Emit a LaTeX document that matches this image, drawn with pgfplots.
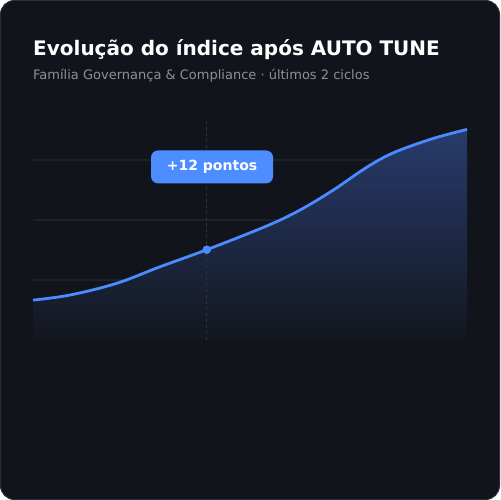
\documentclass[border=0pt]{standalone}
\usepackage{pgfplots}
\pgfplotsset{compat=1.18}
\usepackage{fontspec}
\setmainfont{DejaVu Sans}
\definecolor{bg}{HTML}{11141B}
\definecolor{cardborder}{HTML}{2A2E36}
\definecolor{gridc}{HTML}{1D2129}
\definecolor{dashc}{HTML}{2E333D}
\definecolor{linec}{HTML}{4A8BFF}
\definecolor{boxc}{HTML}{4D8DFF}
\definecolor{subc}{HTML}{8B909A}
\definecolor{filltop}{HTML}{273C6C}
\definecolor{fillbot}{HTML}{13161F}

\pgfplotstableread{
x y
0 13.3
2.05 15
4.63 18.9
7.02 24.4
9.61 30.1
12.92 38
14.76 43.3
16.61 50
18.08 56.1
19.19 60.2
20.29 63.3
22.14 67.2
24 70.2
}\indice

\begin{document}
\begin{tikzpicture}[x=1bp,y=1bp]
% card (y = 500 - pixel row)
\fill[white] (0,0) rectangle (500,500);
\fill[bg, draw=cardborder, line width=1bp, rounded corners=14bp] (0.5,0.5) rectangle (499.5,499.5);
\node[anchor=base west, inner sep=0, text=white, font=\bfseries\fontsize{20bp}{24bp}\selectfont] at (33,444) {Evolução do índice após AUTO TUNE};
\node[anchor=base west, inner sep=0, text=subc, font=\fontsize{13bp}{16bp}\selectfont] at (33,420) {Família Governança \& Compliance · últimos 2 ciclos};

\begin{axis}[
  at={(33bp,160bp)}, anchor=south west,
  scale only axis, width=434bp, height=240bp,
  xmin=0, xmax=24, ymin=0, ymax=80,
  axis line style={draw=none},
  xtick=\empty, ytick={20,40,60},
  yticklabels={},
  major tick length=0pt,
  ymajorgrids, grid style={draw=gridc, line width=1.2bp},
  clip=false,
]
\addplot[draw=none, top color=filltop, bottom color=fillbot, smooth, tension=0.6] table[x=x,y=y]{\indice} \closedcycle;
\addplot[draw=dashc, line width=0.8bp, dash pattern=on 3bp off 3bp] coordinates {(9.61,0) (9.61,73.3)};
\addplot[draw=linec, line width=2.8bp, smooth, tension=0.6] table[x=x,y=y]{\indice};
\addplot[only marks, mark=*, mark size=4bp, draw=linec, fill=linec] coordinates {(9.61,30.1)};
\node[fill=boxc, rounded corners=7bp, text=white, font=\bfseries\fontsize{14bp}{16bp}\selectfont, minimum width=122bp, minimum height=33bp, inner sep=0] at (axis cs:9.9,57.7) {+12 pontos};
\end{axis}
\end{tikzpicture}
\end{document}
